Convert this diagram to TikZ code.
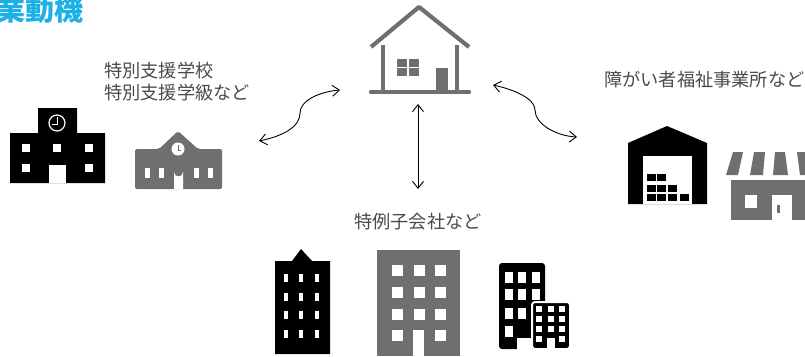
\documentclass[tikz,border=0pt]{standalone}
\usepackage{fontspec}
\setmainfont{Noto Sans CJK JP}
\usetikzlibrary{arrows.meta, positioning}
\definecolor{icongray}{HTML}{6F6F6F}
\definecolor{labelgray}{HTML}{4A4A4A}
\definecolor{titleblue}{HTML}{1BB1E6}
\tikzset{
	label text/.style={text=labelgray, font=\fontsize{18.2}{21.5}\selectfont, inner sep=0pt, align=left},
	title text/.style={text=titleblue, font=\fontsize{29}{29}\selectfont\bfseries, inner sep=0pt},
	link/.style={{Straight Barb[length=7pt,width=11pt]}-{Straight Barb[length=7pt,width=11pt]}, line width=0.9pt, black},
	pane/.style={fill=white, draw=none},
	blackicon/.style={fill=black, draw=none},
	grayicon/.style={fill=icongray, draw=none},
	houseline/.style={draw=icongray, line width=4.2pt}
}
\begin{document}
\begin{tikzpicture}[x=1pt, y=-1pt]
	\useasboundingbox (0,0) rectangle (805,356);
	\clip (0,0) rectangle (805,356);

	% Labels
	\node[title text, anchor=east] (title) at (84,10) {業動機};
	\node[label text, anchor=north west] (school) at (104,62) {特別支援学校\\特別支援学級など};
	\node[label text, anchor=west] (welfare) at (604,80) {障がい者福祉事業所など};
	\node[label text, anchor=west] (company) at (354,222) {特例子会社など};

	% School, black
	\fill[blackicon] (38,108) rectangle (77,133) (10,133) rectangle (105,183);
	\draw[white, line width=1.2pt] (57,123) circle (8);
	\draw[white, line width=1pt] (57,117) -- (57,124) -- (52,124);
	\foreach \x/\y in {26/148, 57/148, 89/148, 26/168, 89/168}
		\fill[pane] (\x-3.7,\y-3.7) rectangle (\x+3.7,\y+3.7);
	\fill[pane] (49,165) rectangle (66,183);

	% School, gray
	\fill[grayicon, rounded corners=2pt] (135,189) -- (135,149) -- (159,149) -- (178,131) -- (198,149) -- (222,149) -- (222,189) -- cycle;
	\fill[pane] (178,149) circle (6.5);
	\draw[icongray, line width=0.6pt] (178,145) -- (178,150) -- (181,150);
	\foreach \x in {147, 161, 196, 210}
		\fill[pane] (\x-2.5,168) rectangle (\x+2.5,178);
	\fill[pane] (174,189) -- (174,172) arc[start angle=180, end angle=0, radius=4.5] -- (183,189) -- cycle;

	% House
	\draw[houseline, line join=round] (371,47) -- (419,7) -- (469,47);
	\draw[houseline] (383,45) -- (383,92) (457,45) -- (457,92);
	\draw[houseline, line cap=round] (371,92) -- (469,92);
	\foreach \x/\y in {397/59, 409/59, 397/68, 409/68}
		\fill[grayicon] (\x,\y) rectangle (\x+10,\y+8);
	\fill[grayicon] (436,68) rectangle (448,92);

	% Warehouse
	\fill[blackicon] (628,204) -- (628,143) -- (667,126) -- (707,143) -- (707,204) -- cycle;
	\fill[pane] (643,156) rectangle (692,204);
	\foreach \x/\y in {647/174, 657/174, 647/185, 657/185, 668/185, 647/194, 657/194, 668/194, 680/194}
		\fill[blackicon] (\x,\y) rectangle (\x+8.5,\y+7);

	% Store
	\foreach \a/\b/\c/\d in {733/743/738/726, 754/765/763/750, 775/785/788/773, 797/808/815/800}
		\fill[grayicon] (\a,152) -- (\b,152) -- (\c,175) -- (\d,175) -- cycle;
	\fill[grayicon] (731,180) rectangle (810,220);
	\fill[pane] (745,195) rectangle (757,208);
	\fill[pane] (772,195) rectangle (792,220);
	\fill[grayicon] (777,205) rectangle (779.5,213);

	% Building, black
	\fill[blackicon] (275,354) -- (275,261) -- (292,261) -- (301,249) -- (312,261) -- (330,261) -- (330,354) -- cycle;
	\foreach \x in {286, 301, 317}
		\foreach \y in {278, 297, 315, 334}
			\fill[pane] (\x-2,\y-4) rectangle (\x+2,\y+4);

	% Building, gray
	\fill[grayicon] (377,250) rectangle (460,356);
	\foreach \x/\y in {397/270, 419/270, 440/270, 397/292, 419/292, 440/292, 397/314, 419/314, 440/314, 397/335, 440/335}
		\fill[pane] (\x-5.5,\y-5.5) rectangle (\x+5.5,\y+5.5);
	\fill[pane] (413,330) rectangle (424,356);

	% Building pair
	\fill[blackicon, rounded corners=3pt] (499,263) rectangle (545,349);
	\foreach \x/\y in {509/277, 522/277, 536/277, 509/294, 522/294, 536/294, 509/313, 522/313, 509/331}
		\fill[pane] (\x-4,\y-5.5) rectangle (\x+4,\y+5.5);
	\fill[pane] (517,338) rectangle (532,350);
	\fill[blackicon, rounded corners=3pt, draw=white, line width=2pt] (532,302) rectangle (570,349);
	\foreach \x/\y in {539/309, 551/309, 562/309, 539/319, 551/319, 562/319, 539/329, 551/329, 562/329, 539/339, 562/339}
		\fill[pane] (\x-3,\y-3) rectangle (\x+3,\y+3);
	\fill[pane] (547,338) rectangle (555,349);

	% Ends of the links
	\coordinate (homeL) at (340,90);
	\coordinate (homeR) at (493,85);
	\coordinate (homeD) at (418,104);
	\coordinate (schoolEnd) at (259,141);
	\coordinate (welfareEnd) at (577,137);
	\coordinate (companyEnd) at (418,189);

	% Links
	\draw[link] (schoolEnd) .. controls (283,136) and (300,127) .. (300,113) .. controls (300,101) and (318,92) .. (homeL);
	\draw[link] (homeR) .. controls (512,89) and (535,98) .. (535,110) .. controls (535,124) and (556,136) .. (welfareEnd);
	\draw[link] (homeD) -- (companyEnd);
\end{tikzpicture}
\end{document}
